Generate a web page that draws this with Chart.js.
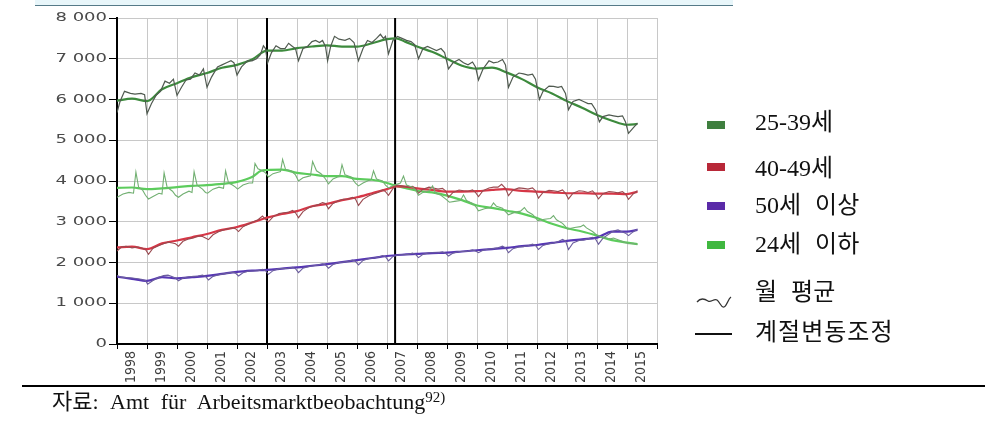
<!DOCTYPE html>
<html><head><meta charset="utf-8">
<script src="https://cdn.jsdelivr.net/npm/chart.js@4.4.0/dist/chart.umd.min.js"></script>
<style>
html,body{margin:0;padding:0;background:#fff;}
#wrap{position:relative;width:1004px;height:441px;overflow:hidden;background:#fff;}
#c{position:absolute;left:0;top:0;}
.topband{position:absolute;left:35px;top:0;width:698px;height:5px;background:#e8f6fa;}
.topline{position:absolute;left:35px;top:5px;width:698px;height:1px;background:#557a88;}
.botline{position:absolute;left:22px;top:385px;width:963px;height:2px;background:#000;}
.leg{position:absolute;left:755px;font-family:"Liberation Serif","Noto Sans CJK KR",serif;font-size:24px;line-height:24px;color:#111;white-space:nowrap;word-spacing:8px;}
.sw{position:absolute;left:707px;width:18px;height:8px;}
.src{position:absolute;left:52px;top:391px;font-family:"Liberation Serif","Noto Sans CJK KR",serif;font-size:22px;line-height:22px;color:#111;white-space:nowrap;word-spacing:6px;}
.src sup{font-size:15px;line-height:0;vertical-align:7px;word-spacing:0;}
</style></head>
<body>
<div id="wrap">
<canvas id="c" width="1004" height="441"></canvas>
<div class="topband"></div><div class="topline"></div>
<div class="botline"></div>
<div class="sw" style="top:121px;background:#3f7f3f"></div><div class="leg" style="top:110px">25-39세</div>
<div class="sw" style="top:163px;background:#b82838"></div><div class="leg" style="top:156px">40-49세</div>
<div class="sw" style="top:202px;background:#5a2aa8"></div><div class="leg" style="top:193px">50세 이상</div>
<div class="sw" style="top:241px;background:#40b840"></div><div class="leg" style="top:232px">24세 이하</div>
<svg style="position:absolute;left:696px;top:294px" width="36" height="16"><path d="M1 8 C5 3,9 5,12 7 S18 4,21 6 S25 14,28 13 S32 5,35 3" fill="none" stroke="#333" stroke-width="1.3"/></svg>
<div class="leg" style="top:280px">월 평균</div>
<div style="position:absolute;left:695px;top:333px;width:37px;height:2px;background:#111"></div>
<div class="leg" style="top:320px;word-spacing:0;letter-spacing:1px">계절변동조정</div>
<div class="src">자료: Amt für Arbeitsmarktbeobachtung<sup>92)</sup></div>
</div>
<script>
// x = year (fractional), y = persons
const years = [1998,1999,2000,2001,2002,2003,2004,2005,2006,2007,2008,2009,2010,2011,2012,2013,2014,2015];
const yTicks = [0,1000,2000,3000,4000,5000,6000,7000,8000];
const breakLines = [2003.0, 2007.27];

const monthly25_39 = [
[1998.0,5680],[1998.1,5950],[1998.25,6200],[1998.45,6150],[1998.6,6130],[1998.8,6150],[1998.92,6120],
[1999.0,5650],[1999.15,5900],[1999.3,6100],[1999.45,6200],[1999.6,6450],[1999.75,6400],[1999.88,6500],
[2000.0,6100],[2000.15,6300],[2000.3,6480],[2000.45,6500],[2000.6,6650],[2000.75,6600],[2000.88,6750],
[2001.0,6300],[2001.15,6550],[2001.35,6800],[2001.5,6850],[2001.65,6900],[2001.8,6950],[2001.9,6900],
[2002.0,6600],[2002.15,6800],[2002.35,6950],[2002.5,6950],[2002.65,7000],[2002.78,7100],[2002.88,7320],[2002.95,7250],
[2003.02,6900],[2003.15,7150],[2003.3,7320],[2003.45,7250],[2003.6,7250],[2003.72,7380],[2003.85,7300],[2003.95,7250],
[2004.05,6950],[2004.2,7250],[2004.35,7300],[2004.5,7420],[2004.62,7450],[2004.75,7400],[2004.85,7450],[2004.95,7300],
[2005.02,6950],[2005.12,7300],[2005.25,7550],[2005.4,7480],[2005.6,7450],[2005.75,7500],[2005.9,7400],
[2006.05,6950],[2006.2,7250],[2006.35,7450],[2006.5,7400],[2006.65,7500],[2006.78,7600],[2006.88,7500],[2006.95,7550],
[2007.05,7120],[2007.2,7450],[2007.35,7550],[2007.5,7500],[2007.65,7450],[2007.8,7420],[2007.92,7350],
[2008.05,7000],[2008.2,7250],[2008.35,7300],[2008.5,7250],[2008.65,7200],[2008.8,7250],[2008.92,7150],
[2009.05,6750],[2009.2,6900],[2009.4,6980],[2009.55,6900],[2009.7,6850],[2009.85,6920],[2009.95,6800],
[2010.05,6480],[2010.2,6750],[2010.4,6950],[2010.55,6900],[2010.7,6920],[2010.85,6980],[2010.95,6850],
[2011.05,6300],[2011.2,6550],[2011.4,6650],[2011.55,6630],[2011.7,6600],[2011.85,6620],[2011.95,6500],
[2012.08,6000],[2012.2,6200],[2012.4,6330],[2012.55,6320],[2012.7,6300],[2012.82,6320],[2012.95,6150],
[2013.05,5750],[2013.2,5950],[2013.4,6000],[2013.55,5950],[2013.7,5900],[2013.82,5900],[2013.95,5750],
[2014.08,5450],[2014.2,5580],[2014.4,5620],[2014.55,5600],[2014.7,5580],[2014.85,5600],[2014.95,5450],
[2015.05,5170],[2015.2,5300],[2015.35,5420]];
const trend25_39 = [[1998,5970],[1998.5,6020],[1999,5960],[1999.5,6250],[2000,6400],[2000.5,6550],[2001,6650],[2001.5,6780],[2002,6850],[2002.5,6980],[2003,7200],[2003.5,7200],[2004,7260],[2004.5,7300],[2005,7330],[2005.5,7300],[2006,7300],[2006.5,7380],[2007,7480],[2007.3,7500],[2007.6,7420],[2008,7300],[2008.5,7170],[2009,7000],[2009.5,6830],[2010,6760],[2010.5,6780],[2011,6660],[2011.5,6500],[2012,6300],[2012.5,6150],[2013,5960],[2013.5,5800],[2014,5620],[2014.5,5480],[2015,5380],[2015.35,5400]];

const monthly40_49 = [
[1998.0,2280],[1998.15,2380],[1998.3,2400],[1998.5,2360],[1998.7,2380],[1998.85,2350],[1998.95,2320],
[1999.05,2200],[1999.2,2350],[1999.4,2420],[1999.55,2460],[1999.7,2500],[1999.85,2480],[1999.95,2460],
[2000.05,2400],[2000.2,2520],[2000.4,2580],[2000.55,2600],[2000.7,2650],[2000.85,2640],[2000.95,2600],
[2001.05,2560],[2001.2,2680],[2001.4,2760],[2001.55,2800],[2001.7,2830],[2001.85,2850],[2001.95,2830],
[2002.05,2760],[2002.2,2880],[2002.4,2950],[2002.55,3000],[2002.7,3050],[2002.85,3140],[2002.95,3060],
[2003.05,3000],[2003.2,3120],[2003.4,3200],[2003.55,3220],[2003.7,3230],[2003.85,3280],[2003.95,3220],
[2004.05,3100],[2004.2,3250],[2004.4,3350],[2004.55,3380],[2004.7,3420],[2004.85,3470],[2004.95,3450],
[2005.05,3320],[2005.2,3450],[2005.4,3520],[2005.55,3550],[2005.7,3560],[2005.85,3600],[2005.95,3560],
[2006.05,3400],[2006.2,3550],[2006.4,3640],[2006.55,3680],[2006.7,3720],[2006.85,3780],[2006.95,3740],
[2007.05,3650],[2007.2,3820],[2007.35,3900],[2007.5,3880],[2007.7,3850],[2007.85,3870],[2007.95,3820],
[2008.05,3700],[2008.2,3800],[2008.4,3850],[2008.55,3830],[2008.7,3800],[2008.85,3820],[2008.95,3760],
[2009.05,3600],[2009.2,3720],[2009.4,3780],[2009.55,3760],[2009.7,3750],[2009.85,3780],[2009.95,3720],
[2010.05,3620],[2010.2,3760],[2010.4,3830],[2010.55,3850],[2010.7,3850],[2010.82,3920],[2010.95,3820],
[2011.05,3640],[2011.2,3780],[2011.4,3830],[2011.55,3820],[2011.7,3800],[2011.85,3830],[2011.95,3760],
[2012.05,3580],[2012.2,3720],[2012.4,3770],[2012.55,3760],[2012.7,3740],[2012.85,3780],[2012.95,3700],
[2013.05,3560],[2013.2,3700],[2013.4,3760],[2013.55,3750],[2013.7,3720],[2013.85,3760],[2013.95,3680],
[2014.05,3560],[2014.2,3690],[2014.4,3740],[2014.55,3730],[2014.7,3710],[2014.85,3740],[2014.95,3680],
[2015.05,3550],[2015.2,3680],[2015.35,3760]];
const trend40_49 = [[1998,2370],[1998.5,2390],[1999,2330],[1999.5,2470],[2000,2540],[2000.5,2620],[2001,2700],[2001.5,2800],[2002,2870],[2002.5,2980],[2003,3100],[2003.5,3190],[2004,3260],[2004.5,3380],[2005,3440],[2005.5,3530],[2006,3600],[2006.5,3700],[2007,3800],[2007.3,3870],[2007.6,3860],[2008,3820],[2008.5,3780],[2009,3740],[2009.5,3740],[2010,3750],[2010.5,3780],[2010.9,3800],[2011.5,3760],[2012,3740],[2012.5,3720],[2013,3700],[2013.5,3700],[2014,3690],[2014.5,3690],[2015,3680],[2015.35,3740]];

const monthly50plus = [
[1998.0,1680],[1998.15,1640],[1998.3,1630],[1998.5,1620],[1998.7,1600],[1998.85,1580],[1998.95,1560],
[1999.02,1470],[1999.2,1560],[1999.4,1640],[1999.55,1680],[1999.7,1690],[1999.85,1650],[1999.95,1620],
[2000.05,1550],[2000.2,1620],[2000.4,1650],[2000.55,1660],[2000.7,1670],[2000.85,1690],[2000.95,1660],
[2001.05,1570],[2001.2,1660],[2001.4,1700],[2001.55,1720],[2001.7,1740],[2001.85,1760],[2001.95,1740],
[2002.05,1670],[2002.2,1750],[2002.4,1790],[2002.55,1790],[2002.7,1800],[2002.85,1830],[2002.95,1800],
[2003.05,1710],[2003.2,1800],[2003.4,1850],[2003.55,1850],[2003.7,1860],[2003.85,1880],[2003.95,1850],
[2004.05,1750],[2004.2,1860],[2004.4,1900],[2004.55,1920],[2004.7,1940],[2004.85,1970],[2004.95,1940],
[2005.05,1860],[2005.2,1950],[2005.4,2000],[2005.55,2010],[2005.7,2030],[2005.85,2060],[2005.95,2030],
[2006.05,1940],[2006.2,2050],[2006.4,2100],[2006.55,2110],[2006.7,2130],[2006.85,2170],[2006.95,2140],
[2007.05,2040],[2007.2,2150],[2007.4,2190],[2007.55,2190],[2007.7,2200],[2007.85,2230],[2007.95,2200],
[2008.05,2120],[2008.2,2200],[2008.4,2240],[2008.55,2240],[2008.7,2240],[2008.85,2260],[2008.95,2230],
[2009.05,2160],[2009.2,2230],[2009.4,2270],[2009.55,2270],[2009.7,2280],[2009.85,2310],[2009.95,2280],
[2010.05,2240],[2010.2,2300],[2010.4,2330],[2010.55,2340],[2010.7,2360],[2010.85,2400],[2010.95,2360],
[2011.05,2240],[2011.2,2340],[2011.4,2380],[2011.55,2390],[2011.7,2410],[2011.85,2450],[2011.95,2420],
[2012.05,2320],[2012.2,2420],[2012.4,2460],[2012.55,2480],[2012.7,2510],[2012.85,2570],[2012.95,2530],
[2013.05,2320],[2013.2,2480],[2013.4,2540],[2013.55,2550],[2013.7,2580],[2013.85,2620],[2013.95,2580],
[2014.05,2450],[2014.2,2600],[2014.4,2700],[2014.55,2770],[2014.7,2800],[2014.85,2750],[2014.95,2720],
[2015.05,2660],[2015.2,2750],[2015.35,2820]];
const trend50plus = [[1998,1650],[1998.5,1600],[1999,1550],[1999.5,1640],[2000,1610],[2000.5,1640],[2001,1670],[2001.5,1720],[2002,1770],[2002.5,1800],[2003,1820],[2003.5,1850],[2004,1880],[2004.5,1920],[2005,1960],[2005.5,2010],[2006,2060],[2006.5,2110],[2007,2160],[2007.5,2190],[2008,2210],[2008.5,2230],[2009,2240],[2009.5,2270],[2010,2300],[2010.5,2330],[2011,2360],[2011.5,2400],[2012,2430],[2012.5,2480],[2013,2530],[2013.5,2570],[2014,2610],[2014.5,2760],[2015,2760],[2015.35,2800]];

const monthly24under = [
[1998.0,3600],[1998.2,3680],[1998.4,3720],[1998.55,3700],[1998.63,4220],[1998.72,3850],[1998.85,3780],[1998.95,3650],
[1999.05,3560],[1999.2,3620],[1999.4,3700],[1999.5,3680],[1999.57,4200],[1999.67,3850],[1999.85,3750],[1999.95,3650],
[2000.05,3600],[2000.2,3680],[2000.4,3750],[2000.5,3720],[2000.57,4230],[2000.67,3900],[2000.85,3800],[2000.95,3720],
[2001.02,3700],[2001.2,3800],[2001.4,3850],[2001.55,3820],[2001.62,4250],[2001.72,3950],[2001.85,3900],[2001.95,3850],
[2002.02,3800],[2002.2,3900],[2002.4,3950],[2002.52,3950],[2002.6,4430],[2002.7,4300],[2002.85,4250],[2002.95,4200],
[2003.05,4100],[2003.2,4180],[2003.4,4220],[2003.45,4230],[2003.52,4530],[2003.62,4280],[2003.8,4250],[2003.95,4150],
[2004.05,4000],[2004.2,4080],[2004.4,4120],[2004.45,4130],[2004.52,4480],[2004.65,4250],[2004.8,4180],[2004.95,4050],
[2005.05,3930],[2005.2,4050],[2005.35,4100],[2005.42,4110],[2005.5,4400],[2005.6,4150],[2005.8,4100],[2005.95,3950],
[2006.05,3880],[2006.2,3950],[2006.4,4020],[2006.47,4030],[2006.55,4250],[2006.65,4050],[2006.85,4000],[2006.95,3900],
[2007.05,3830],[2007.25,3900],[2007.45,3950],[2007.55,4120],[2007.65,3900],[2007.85,3850],[2007.95,3780],
[2008.05,3650],[2008.2,3720],[2008.4,3760],[2008.52,3880],[2008.62,3700],[2008.8,3650],[2008.95,3560],
[2009.08,3480],[2009.25,3500],[2009.45,3520],[2009.55,3660],[2009.65,3520],[2009.85,3450],[2009.95,3380],
[2010.05,3270],[2010.25,3320],[2010.45,3350],[2010.55,3460],[2010.65,3380],[2010.85,3330],[2010.95,3250],
[2011.05,3170],[2011.25,3230],[2011.45,3260],[2011.58,3350],[2011.68,3250],[2011.85,3180],[2011.95,3100],
[2012.02,3030],[2012.25,3060],[2012.45,3080],[2012.55,3150],[2012.65,3050],[2012.85,2960],[2012.95,2880],
[2013.02,2820],[2013.25,2860],[2013.45,2880],[2013.55,2920],[2013.65,2850],[2013.85,2760],[2013.95,2700],
[2014.02,2660],[2014.25,2600],[2014.45,2580],[2014.55,2600],[2014.7,2560],[2014.9,2500],
[2015.05,2460],[2015.2,2470],[2015.35,2440]];
const trend24under = [[1998,3830],[1998.5,3840],[1999,3800],[1999.5,3820],[2000,3850],[2000.5,3880],[2001,3900],[2001.5,3930],[2002,3980],[2002.5,4100],[2002.8,4250],[2003,4270],[2003.5,4280],[2004,4200],[2004.5,4160],[2005,4120],[2005.5,4120],[2006,4050],[2006.5,4030],[2007,3950],[2007.3,3880],[2007.6,3830],[2008,3760],[2008.5,3720],[2009,3640],[2009.5,3530],[2010,3400],[2010.5,3340],[2011,3270],[2011.5,3200],[2012,3090],[2012.5,2950],[2013,2840],[2013.5,2760],[2014,2660],[2014.5,2550],[2015,2490],[2015.35,2450]];

const pts = a => a.map(([x,y]) => ({x, y}));
function mline(data, color, w){ return {data: pts(data), borderColor: color, borderWidth: w, pointRadius: 0, tension: 0, fill: false}; }
function tline(data, color, w){ return {data: pts(data), borderColor: color, borderWidth: w, pointRadius: 0, cubicInterpolationMode: 'monotone', fill: false}; }

const datasets = [
  mline(monthly24under, '#72b072', 1.1),
  mline(monthly50plus, '#6b5d9e', 1.1),
  mline(monthly40_49, '#9a4a50', 1.1),
  mline(monthly25_39, '#505a50', 1.2),
  tline(trend50plus, '#5636b4', 2.2),
  tline(trend40_49, '#d63646', 2.2),
  tline(trend24under, '#5ccc5c', 2.2),
  tline(trend25_39, '#3d8a3d', 2.2),
];
breakLines.forEach(x => datasets.push({data: [{x, y: 0}, {x, y: 8000}], borderColor: '#000', borderWidth: 2, pointRadius: 0, fill: false}));

// y tick labels in the reference are stretched horizontally; scale them about their right edge
const stretchPlugin = {
  id: 'yLabelStretch',
  beforeDraw(chart){
    const ys = chart.scales.y;
    if (ys && !ys._stPatched){
      const orig = ys.drawLabels;
      ys.drawLabels = function(area){
        const c = this.ctx; const ax = this.right - 8 - 2;
        c.save(); c.translate(ax, 0); c.scale(1.5, 1); c.translate(-ax, 0);
        orig.call(this, area); c.restore();
      };
      ys._stPatched = true;
    }
  }
};

new Chart(document.getElementById('c'), {
  type: 'line',
  data: { datasets },
  options: {
    responsive: false,
    animation: false,
    devicePixelRatio: 1,
    layout: { padding: { top: 18, right: 347, left: 0, bottom: 0 } },
    plugins: { legend: { display: false }, tooltip: { enabled: false } },
    scales: {
      x: {
        type: 'linear', min: years[0], max: years[years.length-1] + 1,
        afterBuildTicks: s => { s.ticks = years.concat([years[years.length-1] + 1]).map(v => ({value: v})); },
        afterFit: s => { s.height = 97; },
        grid: { color: '#c8c8c8', lineWidth: 1, tickColor: '#000', tickLength: 5 },
        border: { color: '#000', width: 2 },
        ticks: {
          autoSkip: false, minRotation: 90, maxRotation: 90, labelOffset: 14, padding: 2,
          color: '#3c3c3c', font: { family: '"Liberation Sans Narrow","DejaVu Sans Condensed",sans-serif', size: 14 },
          callback: v => years.includes(v) ? String(v) : ''
        }
      },
      y: {
        min: 0, max: 8000,
        afterBuildTicks: s => { s.ticks = yTicks.map(v => ({value: v})); },
        afterFit: s => { s.width = 117; },
        grid: { color: '#c8c8c8', lineWidth: 1, tickColor: '#000', tickLength: 8 },
        border: { color: '#000', width: 2 },
        ticks: {
          padding: 2, color: '#4a4a4a', font: { family: '"DejaVu Sans",sans-serif', size: 12 },
          callback: v => v === 0 ? '0' : String(v).replace(/(\d)(\d{3})$/, '$1 $2')
        }
      }
    }
  },
  plugins: [stretchPlugin]
});
</script>
</body></html>
